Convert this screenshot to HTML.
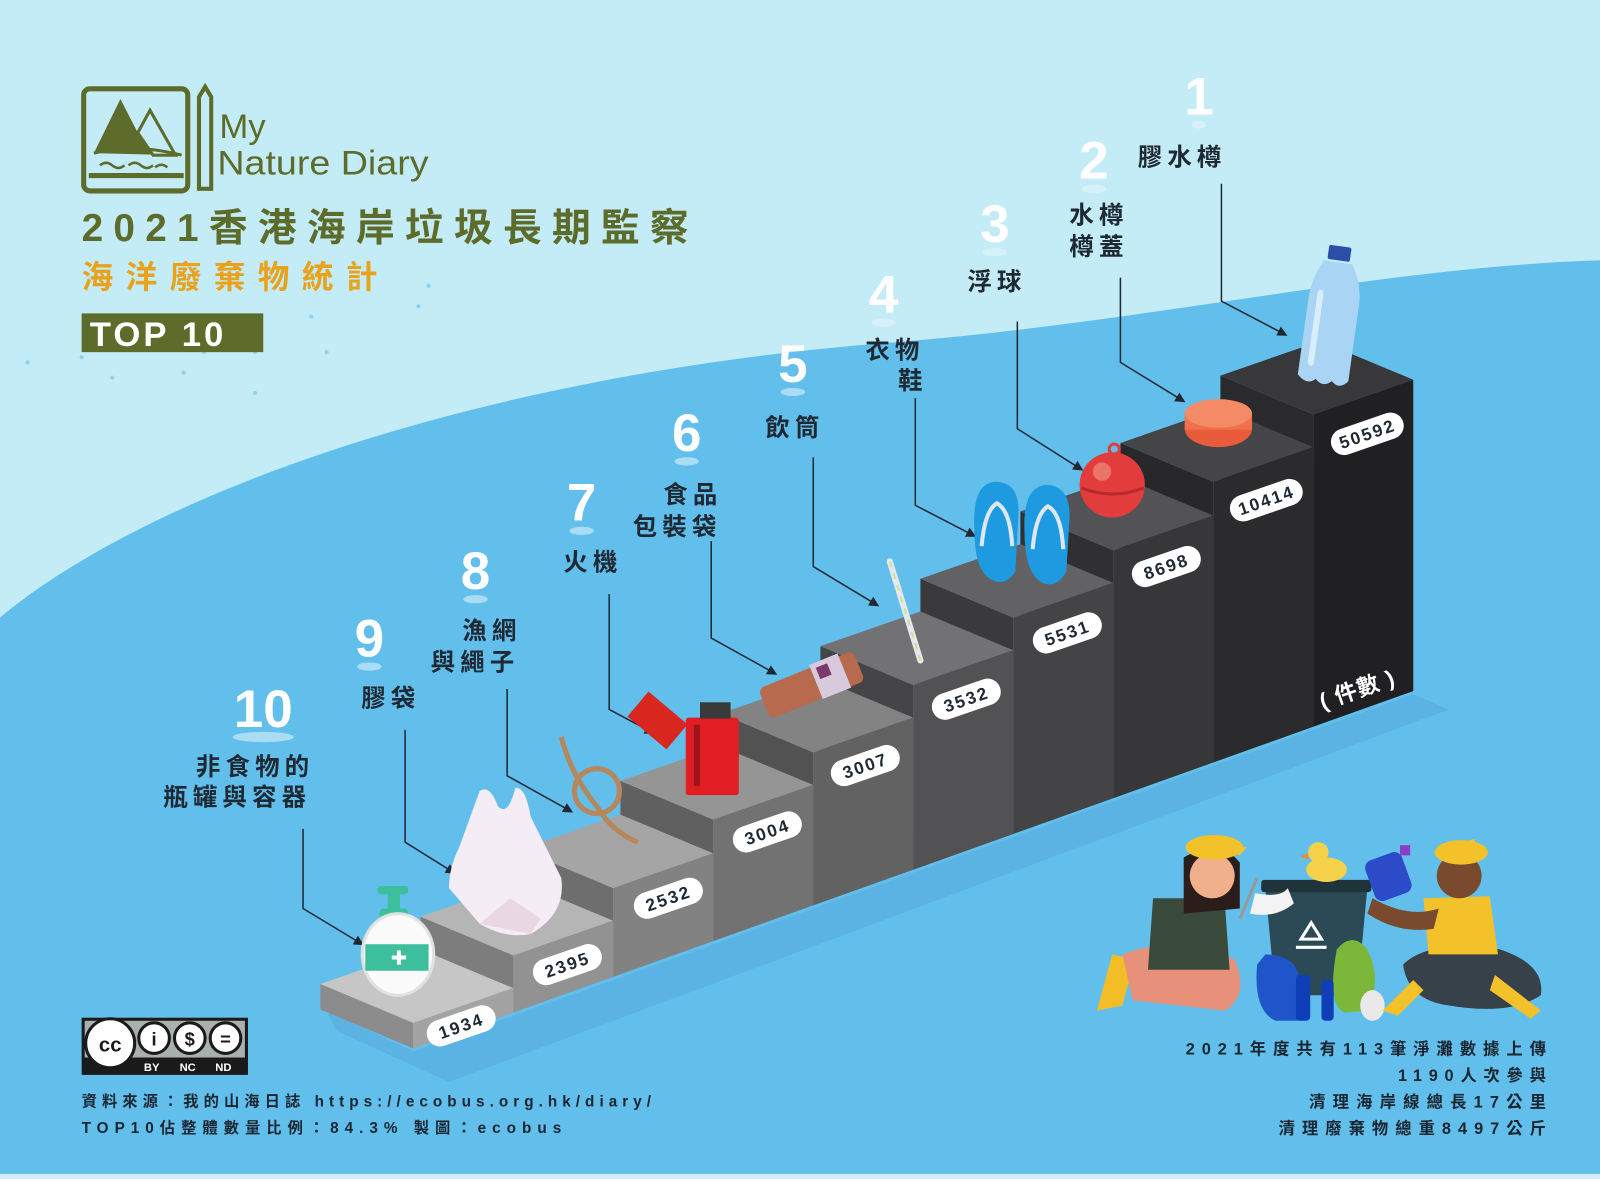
<!DOCTYPE html>
<html><head><meta charset="utf-8">
<style>
html,body{margin:0;padding:0;background:#c4ecf6;}
svg{display:block;}
.t{font-family:"Liberation Sans","Noto Sans CJK TC",sans-serif;font-weight:bold;}
</style></head>
<body>
<svg width="1600" height="1179" viewBox="0 0 1568 1155" preserveAspectRatio="none" xmlns="http://www.w3.org/2000/svg">
<defs>
<marker id="ar" markerWidth="10" markerHeight="10" refX="8" refY="5" orient="auto" markerUnits="userSpaceOnUse"><path d="M0,0 L10,5 L0,10 z" fill="#1f2933"/></marker>
</defs>
<rect width="1568" height="1155" fill="#c4ecf6"/>
<path d="M0,605 C150,480 480,365 880,335 C1130,315 1350,262 1568,255 L1568,1155 L0,1155 Z" fill="#62bfec"/>
<rect x="0" y="1150" width="1568" height="5" fill="#d3eef8"/>
<g fill="#8fd2ec">
<circle cx="27" cy="355" r="2"/><circle cx="80" cy="350" r="2"/><circle cx="160" cy="335" r="2"/><circle cx="200" cy="345" r="2"/><circle cx="250" cy="345" r="2"/><circle cx="305" cy="310" r="2"/><circle cx="320" cy="345" r="2"/><circle cx="410" cy="300" r="2"/><circle cx="420" cy="280" r="2"/><circle cx="110" cy="370" r="2"/><circle cx="250" cy="385" r="2"/><circle cx="180" cy="365" r="2"/>
</g>

<!-- logo -->
<g fill="none" stroke="#5d6b2b" stroke-width="5">
<rect x="82" y="87" width="102" height="100" rx="6"/>
<path d="M87,172 L180,172"/>
<path d="M195,95 L201,85 L207,95 L207,185 L195,185 Z" stroke-width="4"/>
</g>
<path d="M92,150 L118,97 L135,130 L147,108 L172,152 Z" fill="#5d6b2b"/>
<path d="M135,130 L147,108 L172,152 L150,152 Z" fill="#c4ecf6" stroke="#5d6b2b" stroke-width="3"/>
<path d="M92,150 C120,142 150,145 178,152" fill="none" stroke="#5d6b2b" stroke-width="3"/>
<path d="M98,162 q6,-5 12,0 q6,5 12,0 M126,162 q6,-5 12,0 q6,5 12,0 M152,164 q6,-5 12,0" fill="none" stroke="#5d6b2b" stroke-width="2.5"/>
<text x="215" y="135" class="t" style="font-weight:normal" font-size="34" fill="#5d6b2b">My</text>
<text x="213" y="171" class="t" style="font-weight:normal" font-size="34" fill="#5d6b2b" textLength="207" lengthAdjust="spacingAndGlyphs">Nature Diary</text>

<text x="80" y="236" class="t" font-size="38" fill="#5d6b2b" textLength="595" lengthAdjust="spacing">2021香港海岸垃圾長期監察</text>
<text x="80" y="282" class="t" font-size="31" fill="#e8a21b" textLength="290" lengthAdjust="spacing">海洋廢棄物統計</text>
<rect x="80" y="307" width="178" height="38" fill="#5d6b2b"/>
<text x="88" y="339" class="t" font-size="34" fill="#fff" letter-spacing="3">TOP 10</text>

<polygon points="320,990 405,1030 1385,680 1420,695 440,1060 330,1010" fill="#4d9fd0" opacity="0.35"/>

<!-- stairs -->
<g>
<polygon points="1196,368 1287,406 1287,712 1196,674" fill="#2a2a2d"/>
<polygon points="1287,406 1385,372 1294,334 1196,368" fill="#38383b"/>
<polygon points="1287,406 1385,372 1385,677 1287,712" fill="#202022"/>

<polygon points="1098,434 1189,472 1189,747 1098,709" fill="#28282b"/>
<polygon points="1189,472 1287,438 1196,400 1098,434" fill="#454548"/>
<polygon points="1189,472 1287,438 1287,712 1189,747" fill="#2b2b2e"/>

<polygon points="1000,501 1091,539 1091,782 1000,744" fill="#303033"/>
<polygon points="1091,539 1189,505 1098,467 1000,501" fill="#535356"/>
<polygon points="1091,539 1189,505 1189,747 1091,782" fill="#37373a"/>

<polygon points="902,567 993,605 993,817 902,779" fill="#3a3a3c"/>
<polygon points="993,605 1091,571 1000,533 902,567" fill="#626264"/>
<polygon points="993,605 1091,571 1091,782 993,817" fill="#444446"/>

<polygon points="804,633 895,671 895,852 804,814" fill="#454547"/>
<polygon points="895,671 993,637 902,599 804,633" fill="#727274"/>
<polygon points="895,671 993,637 993,817 895,852" fill="#525254"/>

<polygon points="706,699 797,737 797,887 706,849" fill="#525253"/>
<polygon points="797,737 895,703 804,665 706,699" fill="#838384"/>
<polygon points="797,737 895,703 895,852 797,887" fill="#626263"/>

<polygon points="608,765 699,803 699,922 608,884" fill="#606060"/>
<polygon points="699,803 797,769 706,731 608,765" fill="#959595"/>
<polygon points="699,803 797,769 797,887 699,922" fill="#727272"/>

<polygon points="510,832 601,870 601,957 510,919" fill="#6e6e6e"/>
<polygon points="601,870 699,836 608,798 510,832" fill="#a5a5a5"/>
<polygon points="601,870 699,836 699,922 601,957" fill="#828282"/>

<polygon points="412,898 503,936 503,992 412,954" fill="#7d7d7d"/>
<polygon points="503,936 601,902 510,864 412,898" fill="#b5b5b5"/>
<polygon points="503,936 601,902 601,957 503,992" fill="#929292"/>

<polygon points="314,964 405,1002 405,1027 314,989" fill="#8c8c8c"/>
<polygon points="405,1002 503,968 412,930 314,964" fill="#c6c6c6"/>
<polygon points="405,1002 503,968 503,992 405,1027" fill="#a3a3a3"/>
</g>

<g class="t" font-size="17" fill="#1f2933" text-anchor="middle" letter-spacing="2">
<g transform="translate(452,1005) rotate(-19)"><rect x="-35" y="-13" width="70" height="26" rx="13" fill="#fff"/><text y="6">1934</text></g>
<g transform="translate(556,945) rotate(-19)"><rect x="-35" y="-13" width="70" height="26" rx="13" fill="#fff"/><text y="6">2395</text></g>
<g transform="translate(655,880) rotate(-19)"><rect x="-35" y="-13" width="70" height="26" rx="13" fill="#fff"/><text y="6">2532</text></g>
<g transform="translate(752,815) rotate(-19)"><rect x="-35" y="-13" width="70" height="26" rx="13" fill="#fff"/><text y="6">3004</text></g>
<g transform="translate(848,750) rotate(-19)"><rect x="-35" y="-13" width="70" height="26" rx="13" fill="#fff"/><text y="6">3007</text></g>
<g transform="translate(947,685) rotate(-19)"><rect x="-35" y="-13" width="70" height="26" rx="13" fill="#fff"/><text y="6">3532</text></g>
<g transform="translate(1046,620) rotate(-19)"><rect x="-35" y="-13" width="70" height="26" rx="13" fill="#fff"/><text y="6">5531</text></g>
<g transform="translate(1143,555) rotate(-19)"><rect x="-35" y="-13" width="70" height="26" rx="13" fill="#fff"/><text y="6">8698</text></g>
<g transform="translate(1241,490) rotate(-19)"><rect x="-37" y="-13" width="74" height="26" rx="13" fill="#fff"/><text y="6">10414</text></g>
<g transform="translate(1340,425) rotate(-19)"><rect x="-37" y="-13" width="74" height="26" rx="13" fill="#fff"/><text y="6">50592</text></g>
<g transform="translate(1330,675) rotate(-19)"><text y="8" fill="#fff" font-size="22" letter-spacing="1">( 件數 )</text></g>
</g>

<g fill="none" stroke="#1f2933" stroke-width="1.5" marker-end="url(#ar)">
<polyline points="1197,180 1197,295 1260,328"/>
<polyline points="1098,272 1098,355 1160,393"/>
<polyline points="997,315 997,420 1060,460"/>
<polyline points="897,390 897,495 955,525"/>
<polyline points="797,448 797,555 860,593"/>
<polyline points="697,530 697,625 760,660"/>
<polyline points="597,582 597,695 640,718"/>
<polyline points="497,675 497,760 560,795"/>
<polyline points="397,715 397,825 445,855"/>
<polyline points="297,812 297,890 355,925"/>
</g>

<g class="t" font-size="52" fill="#fff" text-anchor="middle">
<text x="1175" y="112">1</text><text x="1072" y="175">2</text><text x="975" y="237">3</text><text x="866" y="306">4</text><text x="777" y="374">5</text><text x="673" y="442">6</text><text x="570" y="510">7</text><text x="466" y="577">8</text><text x="362" y="643">9</text><text x="258" y="712">10</text>
</g>
<g fill="#e6f6fc" opacity="0.55">
<ellipse cx="1175" cy="122" rx="7" ry="4"/><ellipse cx="1072" cy="185" rx="12" ry="4"/><ellipse cx="975" cy="247" rx="12" ry="4"/><ellipse cx="866" cy="316" rx="12" ry="4"/><ellipse cx="777" cy="384" rx="12" ry="4"/><ellipse cx="673" cy="452" rx="12" ry="4"/><ellipse cx="570" cy="520" rx="12" ry="4"/><ellipse cx="466" cy="587" rx="12" ry="4"/><ellipse cx="362" cy="653" rx="12" ry="4"/><ellipse cx="258" cy="722" rx="30" ry="5"/>
</g>

<g class="t" font-size="24" fill="#1f2933" letter-spacing="5">
<text x="1115" y="162">膠水樽</text>
<text x="1048" y="219">水樽</text><text x="1048" y="250">樽蓋</text>
<text x="948" y="284">浮球</text>
<text x="848" y="351">衣物</text><text x="880" y="381">鞋</text>
<text x="750" y="427">飲筒</text>
<text x="650" y="493">食品</text><text x="620" y="524">包裝袋</text>
<text x="552" y="559">火機</text>
<text x="453" y="626">漁網</text><text x="422" y="657">與繩子</text>
<text x="354" y="692">膠袋</text>
<text x="192" y="759">非食物的</text><text x="160" y="789">瓶罐與容器</text>
</g>

<!-- items -->
<g transform="rotate(8 1300 310)">
<rect x="1293" y="240" width="22" height="14" rx="2" fill="#2b4fa8"/>
<path d="M1290,256 L1318,256 Q1330,275 1330,295 L1330,370 Q1322,380 1314,372 Q1306,380 1298,372 Q1290,380 1280,370 L1280,295 Q1280,275 1290,256 Z" fill="#a9d4f3"/>
<rect x="1288" y="285" width="6" height="75" rx="3" fill="#d9eefc"/>
</g>
<ellipse cx="1194" cy="420" rx="33" ry="18" fill="#e85c3c"/>
<rect x="1161" y="405" width="66" height="16" fill="#f0704e"/>
<ellipse cx="1194" cy="405" rx="33" ry="14" fill="#f58a66"/>
<circle cx="1090" cy="475" r="32" fill="#e23c3c"/>
<circle cx="1080" cy="462" r="9" fill="#f08a7a" opacity="0.7"/>
<path d="M1060,478 Q1090,490 1121,478" stroke="#b82a2a" stroke-width="3" fill="none"/>
<circle cx="1092" cy="440" r="5" fill="none" stroke="#e23c3c" stroke-width="3"/>
<g fill="#1e9ae0">
<path d="M975,472 Q1000,472 998,505 L995,560 Q985,575 972,568 Q955,560 955,520 Q952,474 975,472 Z"/>
<path d="M1026,475 Q1050,476 1048,510 L1045,560 Q1035,578 1020,570 Q1004,560 1004,520 Q1002,476 1026,475 Z"/>
</g>
<g fill="none" stroke="#dfe7ee" stroke-width="4">
<path d="M962,535 Q965,500 977,493 Q990,500 992,535"/>
<path d="M1012,538 Q1015,503 1027,496 Q1040,503 1042,538"/>
</g>
<line x1="872" y1="550" x2="902" y2="647" stroke="#e7e7f2" stroke-width="6" stroke-linecap="round"/>
<line x1="872" y1="550" x2="902" y2="647" stroke="#c8e68a" stroke-width="2" stroke-dasharray="6 6"/>
<g transform="rotate(-22 795 670)">
<rect x="745" y="655" width="100" height="32" rx="6" fill="#b76a4e"/>
<rect x="800" y="652" width="30" height="36" fill="#d9c9dd"/>
<rect x="805" y="657" width="12" height="12" fill="#7a3b6b"/>
</g>
<g transform="rotate(40 645 705)"><rect x="620" y="690" width="50" height="32" fill="#d9261f"/></g>
<rect x="672" y="703" width="52" height="76" rx="3" fill="#e01e24"/>
<rect x="686" y="688" width="30" height="16" fill="#3a3a3a"/>
<rect x="680" y="710" width="6" height="60" fill="#a0151b"/>
<circle cx="585" cy="775" r="22" fill="none" stroke="#b6875c" stroke-width="5"/>
<path d="M550,722 Q560,760 585,790 Q600,815 625,825" fill="none" stroke="#b6875c" stroke-width="5"/>
<path d="M470,775 Q480,768 488,790 Q498,800 505,772 Q515,770 520,800 L550,860 Q555,895 520,915 Q495,920 470,905 L440,870 Q440,850 450,830 Z" fill="#f4edf6"/>
<path d="M470,905 L500,880 L530,900 L520,915 Z" fill="#ead7e4"/>
<rect x="370" y="868" width="30" height="8" rx="3" fill="#3dbf9e"/>
<rect x="380" y="874" width="12" height="25" fill="#3dbf9e"/>
<rect x="372" y="890" width="28" height="12" rx="4" fill="#3dbf9e"/>
<ellipse cx="390" cy="935" rx="35" ry="40" fill="#fbfbfb"/>
<ellipse cx="390" cy="935" rx="35" ry="40" fill="none" stroke="#e1e1e1" stroke-width="3"/>
<rect x="358" y="925" width="62" height="26" fill="#3dbf9e"/>
<path d="M384,938 h14 M391,931 v14" stroke="#fff" stroke-width="4"/>

<!-- kids -->
<g>
<path d="M1240,870 L1340,870 L1330,975 L1250,975 Z" fill="#2c4a55"/>
<rect x="1236" y="862" width="108" height="12" rx="3" fill="#1f333a"/>
<path d="M1275,920 l10,-16 l10,16 z M1270,928 h30" fill="none" stroke="#fff" stroke-width="3"/>
<ellipse cx="1300" cy="852" rx="20" ry="12" fill="#f6d24a"/>
<circle cx="1292" cy="835" r="10" fill="#f6d24a"/>
<path d="M1282,836 l-8,3 l8,3 z" fill="#f08a2a"/>
<path d="M1232,945 Q1228,990 1250,1000 L1272,1000 Q1285,975 1268,945 Q1258,935 1240,935 Z" fill="#1f55c8"/>
<path d="M1310,930 Q1300,985 1318,992 L1340,990 Q1355,960 1340,930 Q1328,915 1315,925 Z" fill="#7bb83a"/>
<rect x="1270" y="955" width="14" height="45" rx="4" fill="#0f3fb8"/>
<rect x="1295" y="960" width="12" height="40" rx="4" fill="#0f3fb8"/>
<ellipse cx="1345" cy="985" rx="12" ry="15" fill="#e8e8e8"/>
<path d="M1075,990 L1090,935 L1112,940 L1100,985 Z" fill="#f3bd28"/>
<path d="M1100,935 Q1150,915 1210,940 Q1225,975 1200,990 L1110,980 Z" fill="#e8917a"/>
<path d="M1130,880 L1200,880 L1205,950 L1125,950 Z" fill="#3a4a3a"/>
<path d="M1160,840 Q1195,820 1215,845 L1215,890 L1160,895 Z" fill="#2b1d1a"/>
<circle cx="1188" cy="858" r="22" fill="#f0b08c"/>
<ellipse cx="1190" cy="830" rx="28" ry="12" fill="#f3c12a"/>
<path d="M1190,825 L1222,830 L1215,838 Z" fill="#f3c12a"/>
<path d="M1230,875 Q1255,880 1262,870 L1268,885 Q1250,900 1225,895 Z" fill="#f3f3f3"/>
<line x1="1215" y1="900" x2="1232" y2="860" stroke="#999" stroke-width="3"/>
<path d="M1375,945 Q1400,920 1470,930 Q1515,945 1510,975 Q1480,995 1420,985 Q1380,980 1375,945 Z" fill="#374149"/>
<path d="M1465,955 L1510,990 L1500,998 L1460,970 Z" fill="#f3c12a"/>
<path d="M1385,960 L1355,990 L1370,995 L1395,970 Z" fill="#f3c12a"/>
<path d="M1395,880 L1460,878 L1468,935 L1400,935 Z" fill="#f3c12a"/>
<circle cx="1430" cy="858" r="22" fill="#7a4a2e"/>
<ellipse cx="1432" cy="835" rx="26" ry="12" fill="#f3c12a"/>
<path d="M1410,830 L1445,822 L1448,838 Z" fill="#f3c12a"/>
<rect x="1342" y="838" width="38" height="42" rx="8" fill="#2b4bc8" transform="rotate(-20 1360 860)"/>
<rect x="1372" y="828" width="10" height="10" fill="#8a3fc8"/>
<path d="M1345,880 Q1380,900 1410,890 L1405,910 Q1370,915 1340,895 Z" fill="#7a4a2e"/>
</g>

<!-- CC badge -->
<rect x="80" y="997" width="163" height="56" fill="#1a1a1a"/>
<rect x="83" y="1000" width="157" height="36" fill="#aab0ad"/>
<g fill="#fff" stroke="#1a1a1a" stroke-width="3">
<circle cx="108" cy="1022" r="24"/><circle cx="151" cy="1017" r="15"/><circle cx="186" cy="1017" r="15"/><circle cx="221" cy="1017" r="15"/>
</g>
<text x="108" y="1030" class="t" font-size="20" fill="#1a1a1a" text-anchor="middle">cc</text>
<text x="151" y="1024" class="t" font-size="18" fill="#1a1a1a" text-anchor="middle">i</text>
<text x="186" y="1024" class="t" font-size="18" fill="#1a1a1a" text-anchor="middle">$</text>
<text x="221" y="1024" class="t" font-size="18" fill="#1a1a1a" text-anchor="middle">=</text>
<g class="t" font-size="11" fill="#fff"><text x="141" y="1049">BY</text><text x="176" y="1049">NC</text><text x="211" y="1049">ND</text></g>

<g class="t" font-size="15" fill="#1a2530">
<text x="80" y="1084" textLength="558" lengthAdjust="spacing">資料來源：我的山海日誌 https://ecobus.org.hk/diary/</text>
<text x="80" y="1110" textLength="470" lengthAdjust="spacing">TOP10佔整體數量比例：84.3% 製圖：ecobus</text>
</g>
<g class="t" font-size="16" fill="#1a2530">
<text x="1162" y="1033" textLength="353" lengthAdjust="spacing">2021年度共有113筆淨灘數據上傳</text>
<text x="1370" y="1059" textLength="145" lengthAdjust="spacing">1190人次參與</text>
<text x="1283" y="1085" textLength="232" lengthAdjust="spacing">清理海岸線總長17公里</text>
<text x="1253" y="1111" textLength="262" lengthAdjust="spacing">清理廢棄物總重8497公斤</text>
</g>
</svg>
</body></html>
